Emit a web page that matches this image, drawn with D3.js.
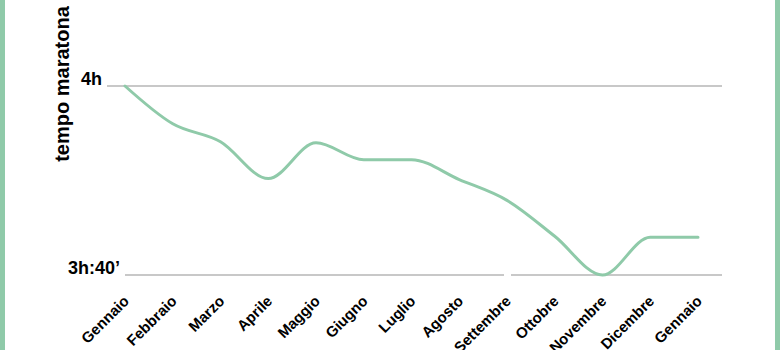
<!DOCTYPE html>
<html>
<head>
  <meta charset="utf-8">
  <title>tempo maratona</title>
  <style>
    body { margin: 0; background: #fff; }
    svg { display: block; font-family: "Liberation Sans", Arial, sans-serif; }
    .lbl { font-weight: bold; fill: #000; }
  </style>
</head>
<body>
  <svg width="780" height="350"></svg>
  <script src="https://d3js.org/d3.v7.min.js"></script>
  <script>
    // mesi e tempi (minuti)
    const mesi = ["Gennaio", "Febbraio", "Marzo", "Aprile", "Maggio", "Giugno", "Luglio",
                  "Agosto", "Settembre", "Ottobre", "Novembre", "Dicembre", "Gennaio"];
    const tempi = [240, 236, 234.1, 230.2, 234, 232.2, 232.2, 230.1, 227.9, 224.1, 220, 224, 224];
    const tickVal = [240, 220];
    const tickTxt = ["4h", "3h:40’"];

    const verde = "#8fcaa9";
    const svg = d3.select("svg");

    const x = d3.scalePoint().domain(d3.range(mesi.length)).range([125, 698]);
    const y = d3.scaleLinear().domain([220, 240]).range([275, 86]);

    // bordi laterali
    svg.append("rect").attr("x", 0).attr("y", 0).attr("width", 5).attr("height", 350).attr("fill", verde);
    svg.append("rect").attr("x", 775).attr("y", 0).attr("width", 5).attr("height", 350).attr("fill", verde);

    // griglia
    const xEnd = x(mesi.length - 1) + 24;
    tickVal.forEach((v, i) => {
      const x0 = i === 0 ? x(0) - 18 : x(0);
      if (i === 0) {
        svg.append("line").attr("x1", x0).attr("x2", xEnd).attr("y1", y(v)).attr("y2", y(v))
          .attr("stroke", "#c8c8c8").attr("stroke-width", 2);
      } else {
        // piccola interruzione vicino a settembre
        const xs = x(8);
        [[x0, xs - 3], [xs + 4, xEnd]].forEach(([a, b]) => {
          svg.append("line").attr("x1", a).attr("x2", b).attr("y1", y(v)).attr("y2", y(v))
            .attr("stroke", "#c8c8c8").attr("stroke-width", 2);
        });
      }
      svg.append("text").attr("class", "lbl")
        .attr("x", x0 - 5).attr("y", y(v) - 1)
        .attr("text-anchor", "end")
        .attr("font-size", 18)
        .text(tickTxt[i]);
    });

    // titolo asse y
    svg.append("text").attr("class", "lbl")
      .attr("transform", "translate(69,84) rotate(-90)")
      .attr("text-anchor", "middle")
      .attr("font-size", 20)
      .text("tempo maratona");

    // linea
    const line = d3.line()
      .x((d, i) => x(i))
      .y(d => y(d))
      .curve(d3.curveMonotoneX);

    svg.append("path")
      .datum(tempi)
      .attr("fill", "none")
      .attr("stroke", verde)
      .attr("stroke-width", 3)
      .attr("stroke-linecap", "round")
      .attr("d", line);

    // etichette mesi
    svg.selectAll(".mese")
      .data(mesi)
      .enter().append("text")
      .attr("class", "lbl mese")
      .attr("text-anchor", "end")
      .attr("font-size", 15)
      .attr("transform", (d, i) => `translate(${x(i) + 5},${302}) rotate(-45)`)
      .text(d => d);
  </script>
</body>
</html>
